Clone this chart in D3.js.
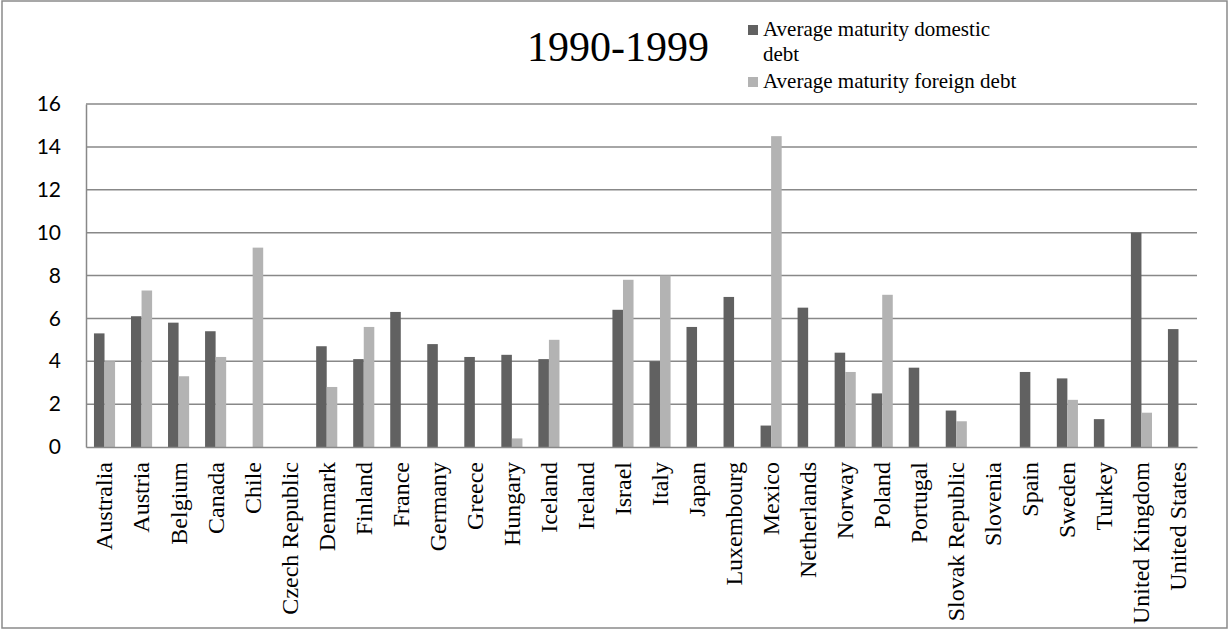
<!DOCTYPE html>
<html>
<head>
<meta charset="utf-8">
<script src="https://cdn.jsdelivr.net/npm/d3@7"></script>
<style>
  html, body { margin: 0; padding: 0; background: #fff; }
  svg { display: block; }
</style>
</head>
<body>
<svg id="chart" width="1229" height="630"></svg>
<script>
// Average maturity of government debt (years), 1990-1999
const countries = ["Australia", "Austria", "Belgium", "Canada", "Chile", "Czech Republic",
  "Denmark", "Finland", "France", "Germany", "Greece", "Hungary", "Iceland", "Ireland",
  "Israel", "Italy", "Japan", "Luxembourg", "Mexico", "Netherlands", "Norway", "Poland",
  "Portugal", "Slovak Republic", "Slovenia", "Spain", "Sweden", "Turkey",
  "United Kingdom", "United States"];

const domesticDebt = [5.3, 6.1, 5.8, 5.4, null, null, 4.7, 4.1, 6.3, 4.8, 4.2, 4.3, 4.1, null,
  6.4, 4.0, 5.6, 7.0, 1.0, 6.5, 4.4, 2.5, 3.7, 1.7, null, 3.5, 3.2, 1.3, 10.0, 5.5];

const foreignDebt = [4.0, 7.3, 3.3, 4.2, 9.3, null, 2.8, 5.6, null, null, null, 0.4, 5.0, null,
  7.8, 8.0, null, null, 14.5, null, 3.5, 7.1, null, 1.2, null, null, 2.2, null, 1.6, null];

const seriesNames = ["Average maturity domestic debt", "Average maturity foreign debt"];
const yTicks = [0, 2, 4, 6, 8, 10, 12, 14, 16];
const title = "1990-1999";

const colors = ["#616161", "#b3b3b3"];
const gridColor = "#888888";

const svg = d3.select("#chart");
const W = 1229, H = 630;
const plot = { left: 86, right: 1197, top: 104, bottom: 447 };

// outer frame
svg.append("rect")
  .attr("x", 2).attr("y", 1).attr("width", W - 4).attr("height", H - 3)
  .attr("fill", "#fff").attr("stroke", "#8a8a8a").attr("stroke-width", 1.5);

const x0 = d3.scaleBand()
  .domain(countries)
  .range([plot.left, plot.right])
  .paddingInner(0.43)
  .paddingOuter(0.215);

const x1 = d3.scaleBand()
  .domain([0, 1])
  .range([0, x0.bandwidth()]);

const y = d3.scaleLinear().domain([0, 16]).range([plot.bottom, plot.top]);

// horizontal gridlines
svg.append("g")
  .selectAll("line")
  .data(yTicks.filter(t => t > 0))
  .join("line")
  .attr("x1", plot.left).attr("x2", plot.right)
  .attr("y1", d => y(d)).attr("y2", d => y(d))
  .attr("stroke", gridColor).attr("stroke-width", 1.5);

// y axis
const yAxis = svg.append("g")
  .attr("transform", `translate(${plot.left},0)`)
  .call(d3.axisLeft(y).tickValues(yTicks).tickSize(0).tickPadding(25));
yAxis.select(".domain").attr("stroke", gridColor).attr("stroke-width", 1.5);
yAxis.selectAll("text")
  .attr("font-family", "Lato, 'Open Sans', sans-serif")
  .attr("font-size", 21)
  .attr("fill", "#000");

// bars
const rows = countries.map((c, i) => ({ country: c, values: [domesticDebt[i], foreignDebt[i]] }));
const groups = svg.append("g")
  .selectAll("g")
  .data(rows)
  .join("g")
  .attr("transform", d => `translate(${x0(d.country)},0)`);

groups.selectAll("rect")
  .data(d => d.values.map((v, k) => ({ k, v })).filter(e => e.v != null))
  .join("rect")
  .attr("x", d => x1(d.k))
  .attr("width", x1.bandwidth())
  .attr("y", d => y(d.v))
  .attr("height", d => y(0) - y(d.v))
  .attr("fill", d => colors[d.k]);

// x axis
const xAxis = svg.append("g")
  .attr("transform", `translate(0,${plot.bottom})`)
  .call(d3.axisBottom(x0).tickSize(0).tickPadding(0));
xAxis.select(".domain").attr("stroke", gridColor).attr("stroke-width", 1.5);
xAxis.selectAll("text")
  .attr("font-family", "'Liberation Serif', 'Times New Roman', serif")
  .attr("font-size", 24)
  .attr("fill", "#000")
  .attr("text-anchor", "end")
  .attr("transform", "rotate(-90)")
  .attr("x", -15)
  .attr("y", 0)
  .attr("dy", "0.33em");

// title
svg.append("text")
  .attr("x", 527).attr("y", 61)
  .attr("font-family", "'Liberation Serif', 'Times New Roman', serif")
  .attr("font-size", 42)
  .attr("fill", "#000")
  .text(title);

// legend
const legendFont = "'Liberation Serif', 'Times New Roman', serif";
const legend = svg.append("g");
const legendLines = [
  { k: 0, lines: ["Average maturity domestic", "debt"], y: 36 },
  { k: 1, lines: [seriesNames[1]], y: 88 }
];
legendLines.forEach(item => {
  legend.append("rect")
    .attr("x", 748).attr("y", item.y - 11)
    .attr("width", 10).attr("height", 10)
    .attr("fill", colors[item.k]);
  const t = legend.append("text")
    .attr("x", 763).attr("y", item.y)
    .attr("font-family", legendFont)
    .attr("font-size", 21)
    .attr("fill", "#000");
  item.lines.forEach((ln, j) => {
    t.append("tspan").attr("x", 763).attr("dy", j === 0 ? 0 : 25).text(ln);
  });
});
</script>
</body>
</html>
